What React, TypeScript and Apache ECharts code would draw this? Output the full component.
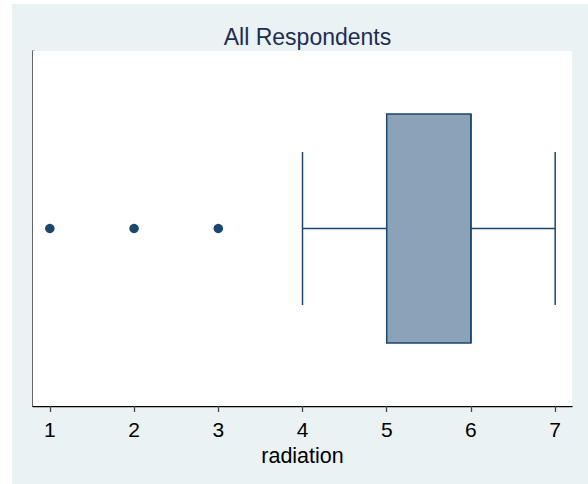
import React, { useEffect, useRef } from "react";
import * as echarts from "echarts";

const title = "All Respondents";
const axisName = "radiation";
const tickValues = [1, 2, 3, 4, 5, 6, 7];
// [lower whisker, q1, median, q3, upper whisker]
const boxStats = [4, 5, 6, 6, 7];
const outliers = [1, 2, 3];

export default function App() {
  const ref = useRef<HTMLDivElement>(null);
  useEffect(() => {
    document.body.style.margin = "0";
    const chart = echarts.init(ref.current!, null, { renderer: "svg" });
    const navy = "#1A476F";
    const font = "Liberation Sans, Arial, sans-serif";
    chart.setOption({
      animation: false,
      backgroundColor: "#FFFFFF",
      textStyle: { fontFamily: font },
      graphic: [
        {
          type: "rect",
          z: -10,
          silent: true,
          shape: { x: 12, y: 4, width: 576, height: 480 },
          style: { fill: "#EAF2F3" },
        },
      ],
      title: {
        text: title,
        left: 302.5,
        top: 20,
        textAlign: "center",
        textStyle: { fontSize: 23, fontWeight: "normal", color: "#1C2D55", fontFamily: font },
      },
      grid: {
        left: 33,
        right: 16,
        top: 51,
        bottom: 78,
        show: true,
        backgroundColor: "#FFFFFF",
        borderWidth: 0,
        z: 1,
      },
      xAxis: {
        type: "value",
        min: 0.8,
        max: 7.2,
        interval: 1,
        name: axisName,
        nameLocation: "middle",
        nameGap: 37,
        nameTextStyle: { fontSize: 21.5, color: "#000", fontFamily: font },
        axisLine: { show: true, onZero: false, lineStyle: { color: "#000", width: 1.3 } },
        axisTick: {
          show: true,
          length: 6,
          lineStyle: { color: "#444", width: 1.3 },
          customValues: tickValues,
        },
        axisLabel: {
          fontSize: 21,
          color: "#000",
          margin: 13,
          customValues: tickValues,
          formatter: (v: number) => String(v),
        },
        splitLine: { show: true, lineStyle: { color: "#EAF2F3", width: 1 } },
      },
      yAxis: {
        type: "value",
        min: 0,
        max: 1,
        axisLine: { show: true, lineStyle: { color: "#444", width: 1.6 } },
        axisTick: { show: false },
        axisLabel: { show: false },
        splitLine: { show: false },
      },
      series: [
        {
          type: "custom",
          z: 3,
          data: [boxStats],
          encode: { x: [0, 1, 2, 3, 4] },
          renderItem: (params: any, api: any) => {
            const lo = api.value(0);
            const q1 = api.value(1);
            const med = api.value(2);
            const q3 = api.value(3);
            const hi = api.value(4);
            const yc = api.coord([0, 0.5])[1];
            const yBoxTop = api.coord([0, 0.8225])[1];
            const yBoxBot = api.coord([0, 0.1775])[1];
            const yCapTop = api.coord([0, 0.7155])[1];
            const yCapBot = api.coord([0, 0.2845])[1];
            const xLo = api.coord([lo, 0])[0];
            const xQ1 = api.coord([q1, 0])[0];
            const xMed = api.coord([med, 0])[0];
            const xQ3 = api.coord([q3, 0])[0];
            const xHi = api.coord([hi, 0])[0];
            const ls = { stroke: navy, lineWidth: 1.5 };
            return {
              type: "group",
              children: [
                { type: "line", shape: { x1: xLo, y1: yc, x2: xQ1, y2: yc }, style: ls },
                { type: "line", shape: { x1: xQ3, y1: yc, x2: xHi, y2: yc }, style: ls },
                { type: "line", shape: { x1: xLo, y1: yCapTop, x2: xLo, y2: yCapBot }, style: ls },
                { type: "line", shape: { x1: xHi, y1: yCapTop, x2: xHi, y2: yCapBot }, style: ls },
                {
                  type: "rect",
                  shape: { x: xQ1, y: yBoxTop, width: xQ3 - xQ1, height: yBoxBot - yBoxTop },
                  style: { fill: "#8CA2B8", stroke: navy, lineWidth: 1.5 },
                },
                { type: "line", shape: { x1: xMed, y1: yBoxTop, x2: xMed, y2: yBoxBot }, style: ls },
              ],
            };
          },
        },
        {
          type: "scatter",
          z: 4,
          symbol: "circle",
          symbolSize: 9.5,
          itemStyle: { color: navy, opacity: 1 },
          data: outliers.map((v) => [v, 0.5]),
        },
      ],
    });
    return () => chart.dispose();
  }, []);
  return <div ref={ref} style={{ width: 588, height: 484 }} />;
}
